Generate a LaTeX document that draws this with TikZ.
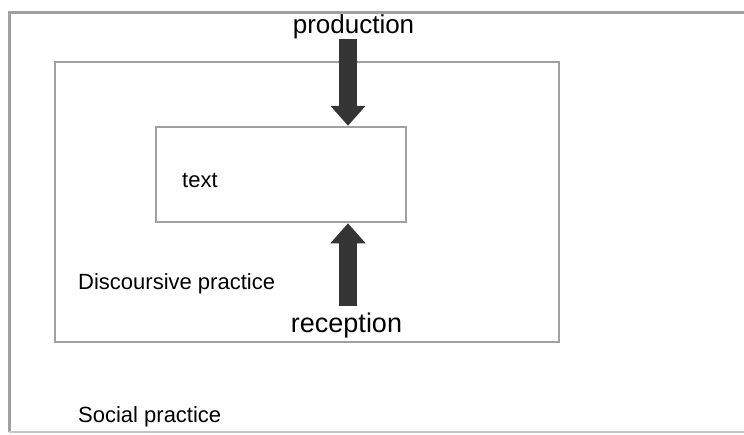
\documentclass[tikz,border=0pt]{standalone}
\usepackage{fontspec}
\setmainfont{Liberation Sans}
\usetikzlibrary{arrows.meta}
\definecolor{boxgray}{HTML}{A0A0A0}
\definecolor{arrowgray}{HTML}{353535}
\begin{document}
\begin{tikzpicture}[x=1pt,y=-1pt,
  frame/.style={draw=boxgray,line width=2.5pt,minimum width=#1,inner sep=0pt},
  big/.style={font=\fontsize{26}{30}\selectfont,inner sep=0pt},
  small/.style={font=\fontsize{22}{26}\selectfont,inner sep=0pt},
  bigarrow/.style={draw=arrowgray,line width=18pt,-{Triangle[width=34pt,length=20pt]}}]
\useasboundingbox[fill=white] (0,0) rectangle (744,434);
% outer (social practice) frame, open at the right
\draw[draw=boxgray,line width=3pt] (744,12) -- (9,12) -- (9,432);
\draw[draw=boxgray!60,line width=1.5pt] (9,432) -- (744,432);
% discursive practice box
\node[frame=504pt,minimum height=280pt] (disc) at (307,202) {};
% text box
\node[frame=250pt,minimum height=95pt] (txt) at (281,174.5) {};
% labels
\node[small,anchor=base west] (textlbl) at (182,187) {text};
\node[small,anchor=base west] (disclbl) at (78,289) {Discoursive practice};
\node[small,anchor=base west] (soclbl) at (78,422) {Social practice};
\node[big,anchor=base] (prod) at (353.5,33) {production};
\node[big,anchor=base,font=\fontsize{27}{30}\selectfont] (rec) at (346.5,332) {reception};
% arrows
\coordinate (ax) at (348,0);
\draw[bigarrow] (prod.south -| ax) -- (txt.north -| ax);
\draw[bigarrow,shorten <=6pt] (rec.north -| ax) -- (txt.south -| ax);
\end{tikzpicture}
\end{document}
